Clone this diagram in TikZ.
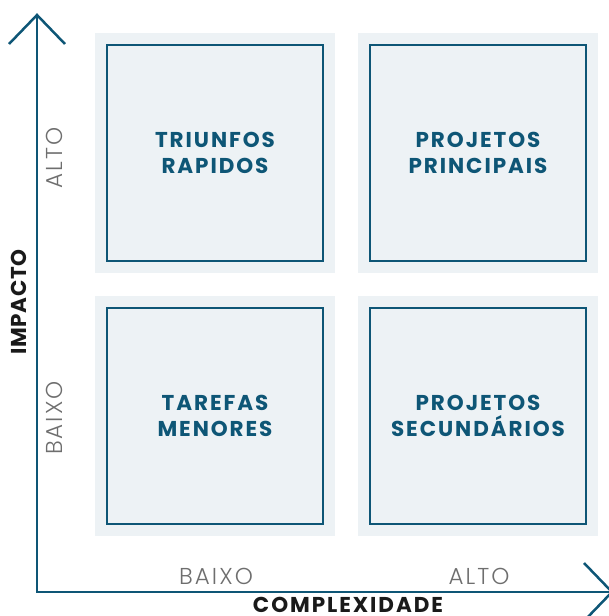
\documentclass[tikz,border=0pt]{standalone}
\usepackage{fontspec}
\setmainfont{Poppins}
\newfontfamily\lightfont{Poppins Light}
\definecolor{mainblue}{HTML}{0E5676}
\definecolor{boxbg}{HTML}{EDF2F5}
\definecolor{labgray}{HTML}{6E6E6E}
\definecolor{darktext}{HTML}{1A1A1A}
\tikzset{
  outerbox/.style={fill=boxbg, draw=none, minimum size=240pt, inner sep=0pt},
  innerbox/.style={draw=mainblue, line width=2pt, minimum size=216pt, inner sep=0pt, align=center,
    text=mainblue, font=\bfseries\fontsize{21.5}{25.5}\selectfont\addfontfeatures{LetterSpace=9}},
  axis/.style={draw=mainblue, line width=2.5pt, line join=miter},
  lightlab/.style={text=labgray, font=\lightfont\fontsize{23}{26}\selectfont\addfontfeatures{LetterSpace=9}, inner sep=0pt, anchor=base},
  boldlab/.style={text=darktext, inner sep=0pt, anchor=base}
}
\begin{document}
\begin{tikzpicture}[x=1pt,y=-1pt]
\useasboundingbox (0,0) rectangle (608,616);
% backgrounds
\node[outerbox] (tlo) at (215,153) {};
\node[outerbox] (tro) at (478,153) {};
\node[outerbox] (blo) at (215,416) {};
\node[outerbox] (bro) at (478,416) {};
% inner boxes
\node[innerbox] (tl) at (215,153) {TRIUNFOS\\RAPIDOS};
\node[innerbox] (tr) at (478,153) {PROJETOS\\PRINCIPAIS};
\node[innerbox] (bl) at (215,416) {TAREFAS\\MENORES};
\node[innerbox] (br) at (478,416) {PROJETOS\\SECUNDÁRIOS};
% axes
\coordinate (ytop) at (37,15);
\coordinate (orig) at (37,592);
\coordinate (xend) at (612,592);
\draw[axis] (ytop) -- (orig) -- (xend);
\draw[axis] ([shift={(-28,29)}]ytop) -- (ytop) -- ([shift={(28,29)}]ytop);
\draw[axis] ([shift={(-28,-29)}]xend) -- (xend) -- ([shift={(-28,29)}]xend);
% axis labels
\node[lightlab, rotate=90] (yalto) at (62,158) {ALTO};
\node[lightlab, rotate=90] (ybaixo) at (62,418) {BAIXO};
\node[lightlab] (xbaixo) at (216,584) {BAIXO};
\node[lightlab] (xalto) at (479,584) {ALTO};
\node[boldlab, font=\bfseries\fontsize{21.5}{24}\selectfont\addfontfeatures{LetterSpace=9}] (xtitle) at (348,612.5) {COMPLEXIDADE};
\node[boldlab, rotate=90, font=\bfseries\fontsize{21.5}{24}\selectfont\addfontfeatures{LetterSpace=3}] (ytitle) at (27,302) {IMPACTO};
\end{tikzpicture}
\end{document}
